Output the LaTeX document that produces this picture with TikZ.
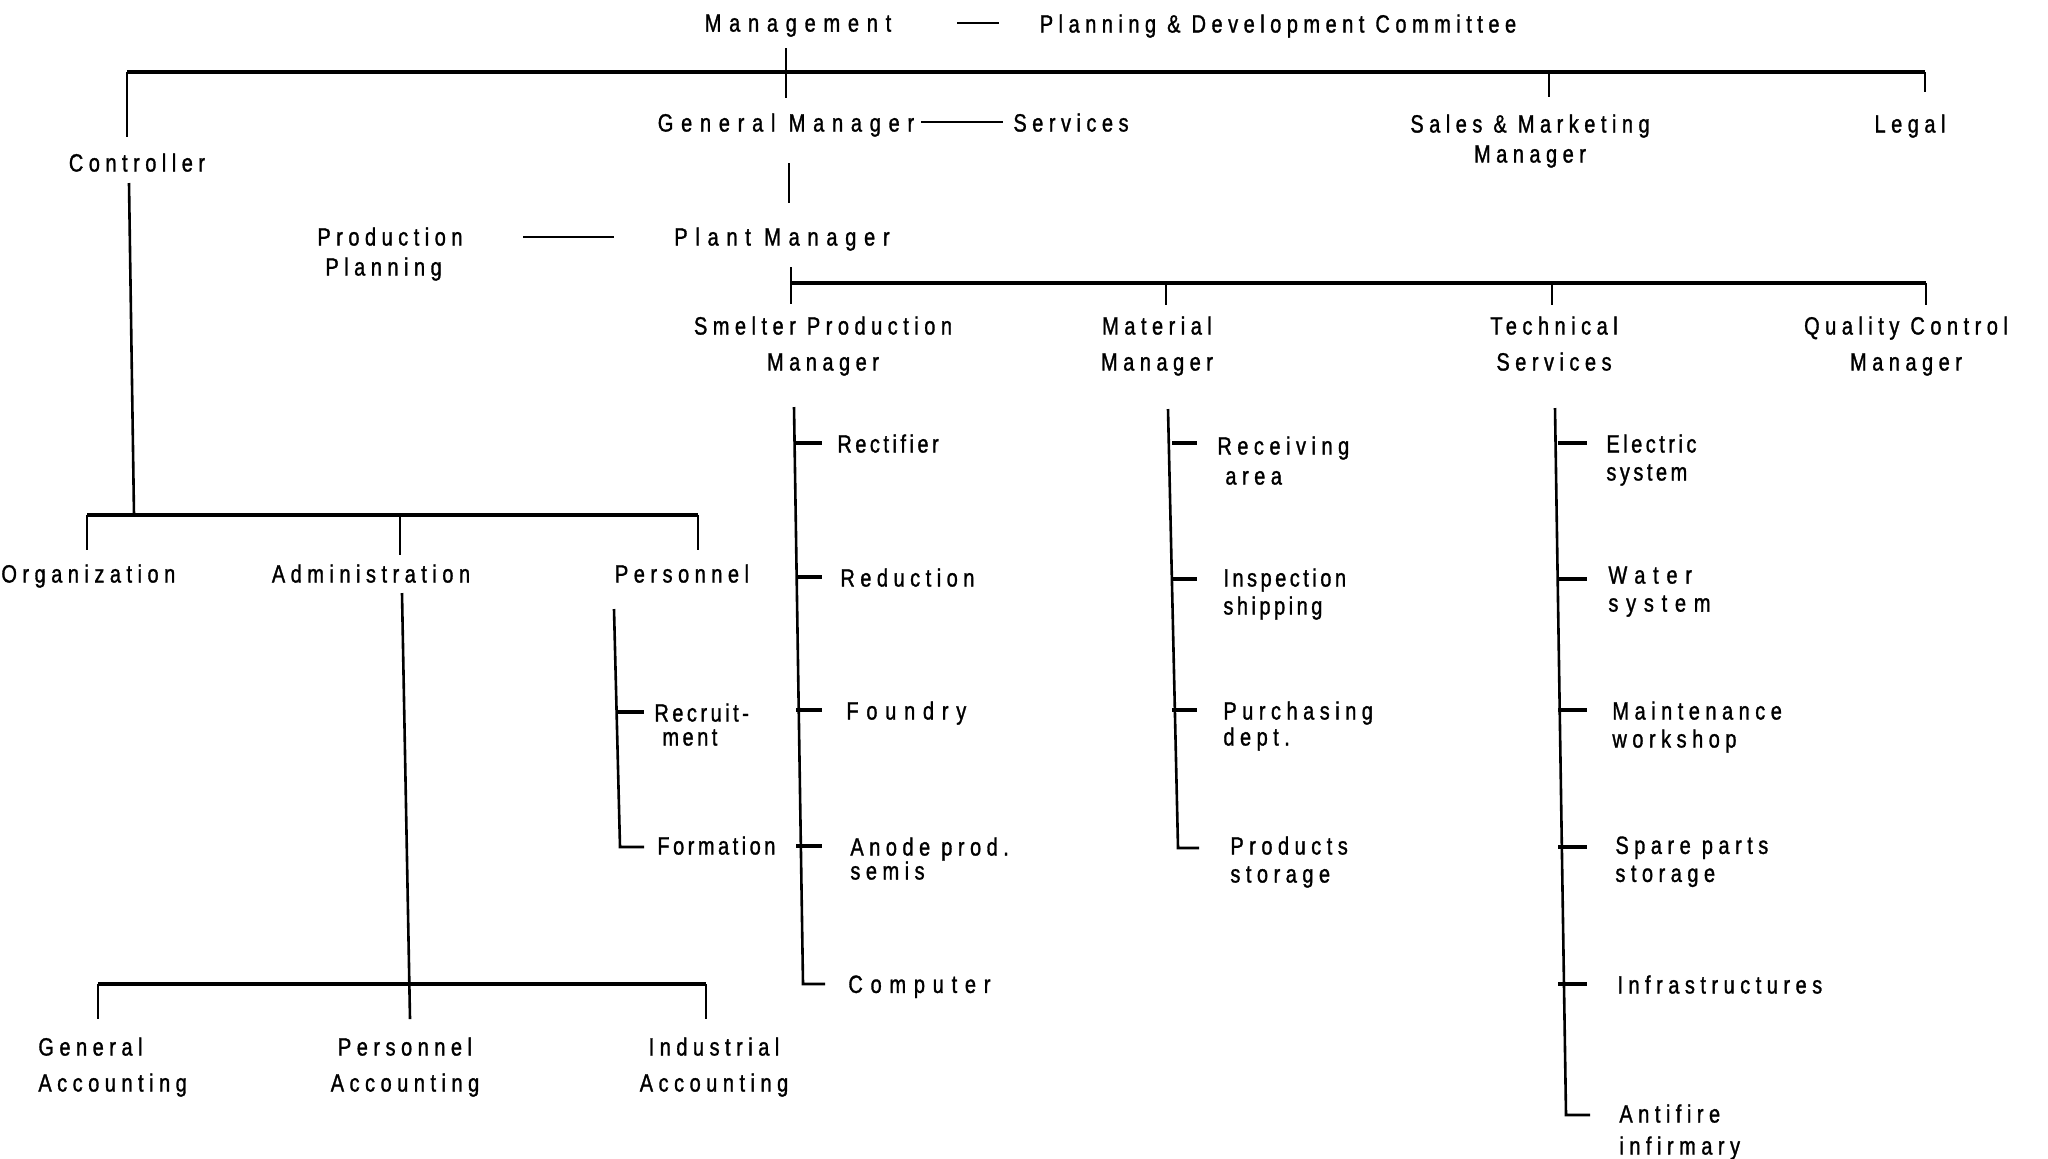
\documentclass[tikz,border=0pt]{standalone}
\usepackage{fontspec}
\setmainfont{Liberation Sans}[FakeStretch=0.8,FakeBold=1.2,LetterSpace=22]
\begin{document}
\begin{tikzpicture}[x=0.5pt,y=-0.5pt,
  lbl/.style={inner sep=0pt,anchor=north,align=center,font=\fontsize{12.5}{18}\selectfont},
  sub/.style={inner sep=0pt,anchor=north west,align=left,font=\fontsize{12.5}{14}\selectfont},
  wide/.append style={execute at begin node=\addfontfeatures{LetterSpace=31}},
  narrow/.append style={execute at begin node=\addfontfeatures{LetterSpace=14}},
  ln/.style={line width=1.3pt},
  bus/.style={line width=2pt}]
\useasboundingbox (0,0) rectangle (2048,1158);
% ---- nodes
\node[lbl,wide] (mgmt) at (798,14) {Management};
\node[lbl] (pdc) at (1278,14) {Planning \& Development Committee};
\node[lbl,wide] (gm) at (786,113) {General Manager};
\node[lbl] (services) at (1071,113) {Services};
\node[lbl,font=\fontsize{12.5}{15}\selectfont] (sales) at (1530,114) {Sales \& Marketing\\Manager};
\node[lbl] (legal) at (1910,114) {Legal};
\node[lbl] (controller) at (137,153) {Controller};
\node[sub,font=\fontsize{12.5}{15}\selectfont] (prodplan) at (317,227) {Production\\\hspace*{4pt}Planning};
\node[lbl,wide] (plant) at (782,227) {Plant Manager};
\node[lbl] (smelter) at (823,316) {Smelter Production\\Manager};
\node[lbl] (material) at (1157,316) {Material\\Manager};
\node[lbl] (technical) at (1554,316) {Technical\\Services};
\node[lbl] (quality) at (1906,316) {Quality Control\\Manager};
\node[lbl,anchor=north west] (org) at (1,564) {Organization};
\node[lbl] (admin) at (371,564) {Administration};
\node[lbl] (personnel) at (682,564) {Personnel};
\node[sub,font=\fontsize{12.5}{18}\selectfont] (genacc) at (38,1037) {General\\Accounting};
\node[lbl] (peracc) at (405,1037) {Personnel\\Accounting};
\node[lbl] (indacc) at (714,1037) {Industrial\\Accounting};
\node[sub,narrow,font=\fontsize{12.5}{12}\selectfont] (recruit) at (654,703) {Recruit-\\\hspace*{4pt}ment};
\node[sub,narrow] (formation) at (657,836) {Formation};
\node[sub,narrow] (rect) at (837,434) {Rectifier};
\node[sub] (red) at (840,568) {Reduction};
\node[sub,wide] (foundry) at (846,701) {Foundry};
\node[sub,font=\fontsize{12.5}{12}\selectfont] (anode) at (850,837) {Anode prod.\\semis};
\node[sub,wide] (computer) at (848,975) {Computer};
\node[sub,font=\fontsize{12.5}{15}\selectfont] (recv) at (1217,436) {Receiving\\\hspace*{4pt}area};
\node[sub,narrow] (insp) at (1223,568) {Inspection\\shipping};
\node[sub,font=\fontsize{12.5}{13}\selectfont] (purch) at (1223,701) {Purchasing\\dept.};
\node[sub] (prodst) at (1230,836) {Products\\storage};
\node[sub,narrow] (elec) at (1606,434) {Electric\\system};
\node[sub,wide] (water) at (1608,566) {Water\\system};
\node[sub] (maint) at (1612,701) {Maintenance\\workshop};
\node[sub] (spare) at (1615,836) {Spare parts\\storage};
\node[sub] (infra) at (1617,975) {Infrastructures};
\node[sub,font=\fontsize{12.5}{16}\selectfont] (antifire) at (1619,1104) {Antifire\\infirmary};
% ---- coordinates
\coordinate (m-top) at (786,48);
\coordinate (m-bot) at (786,98);
\coordinate (tb-l) at (127,72);
\coordinate (tb-r) at (1925,72);
\coordinate (c-a) at (127,137);
\coordinate (c-b) at (129,183);
\coordinate (c-c) at (134,515);
\coordinate (sm-a) at (1549,72);
\coordinate (sm-b) at (1549,97);
\coordinate (lg-b) at (1925,92);
\coordinate (gm-a) at (921,122);
\coordinate (gm-b) at (1003,122);
\coordinate (m-da) at (957,23);
\coordinate (m-db) at (999,23);
\coordinate (gm-v1) at (789,163);
\coordinate (gm-v2) at (789,203);
\coordinate (pp-a) at (523,237);
\coordinate (pp-b) at (614,237);
\coordinate (pl-a) at (791,267);
\coordinate (pl-b) at (791,304);
\coordinate (pb-l) at (791,283);
\coordinate (pb-r) at (1926,283);
% ---- connectors top
\draw[ln] (m-da) -- (m-db);
\draw[ln] (m-top) -- (m-bot);
\draw[bus] (tb-l) -- (tb-r);
\draw[ln] (tb-l) -- (c-a);
\draw[ln] (c-b) -- (c-c);
\draw[ln] (sm-a) -- (sm-b);
\draw[ln] (tb-r) -- (lg-b);
\draw[ln] (gm-a) -- (gm-b);
\draw[ln] (gm-v1) -- (gm-v2);
\draw[ln] (pp-a) -- (pp-b);
\draw[ln] (pl-a) -- (pl-b);
\draw[bus] (pb-l) -- (pb-r);
\draw[ln] (1166,283) -- (1166,305);
\draw[ln] (1552,283) -- (1552,305);
\draw[ln] (pb-r) -- (1926,305);
% ---- controller bus
\coordinate (cb-l) at (87,515);
\coordinate (cb-r) at (698,515);
\draw[bus] (cb-l) -- (cb-r);
\draw[ln] (cb-l) -- (87,550);
\draw[ln] (400,515) -- (400,555);
\draw[ln] (cb-r) -- (698,550);
% ---- administration
\coordinate (ad-a) at (402,593);
\coordinate (ad-b) at (410,1019);
\draw[ln] (ad-a) -- (ad-b);
\coordinate (ab-l) at (98,984);
\coordinate (ab-r) at (706,984);
\draw[bus] (ab-l) -- (ab-r);
\draw[ln] (ab-l) -- (98,1019);
\draw[ln] (ab-r) -- (706,1019);
% ---- personnel
\coordinate (pe-a) at (614,609);
\coordinate (pe-b) at (620,847);
\draw[ln] (pe-a) -- (pe-b) -- (644,847);
\draw[bus] (616,712) -- (644,712);
% ---- smelter column
\coordinate (sc-a) at (794,407);
\coordinate (sc-b) at (803,984);
\draw[ln] (sc-a) -- (sc-b) -- (825,984);
\foreach \yy in {443,577,710,846} \draw[bus] (796,\yy) -- (822,\yy);
% ---- material column
\coordinate (mc-a) at (1168,409);
\coordinate (mc-b) at (1178,848);
\draw[ln] (mc-a) -- (mc-b) -- (1199,848);
\foreach \yy in {443,579,710} \draw[bus] (1172,\yy) -- (1197,\yy);
% ---- technical column
\coordinate (tc-a) at (1555,408);
\coordinate (tc-b) at (1566,1115);
\draw[ln] (tc-a) -- (tc-b) -- (1590,1115);
\foreach \yy in {443,579,710,847,984} \draw[bus] (1558,\yy) -- (1587,\yy);
\end{tikzpicture}
\end{document}
